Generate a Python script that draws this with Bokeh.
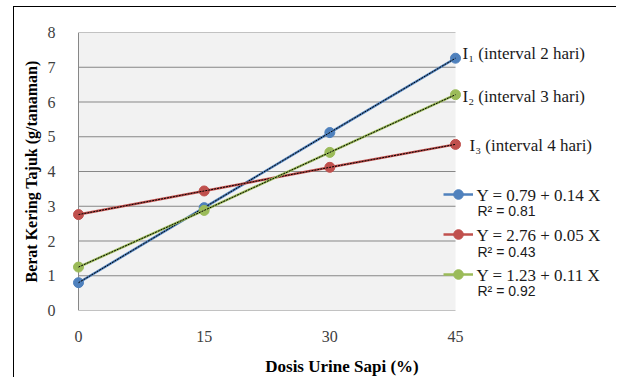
from bokeh.plotting import figure
from bokeh.models import (Range1d, FixedTicker, BoxAnnotation, Label, Legend, LegendItem)
from bokeh.embed import file_html
from bokeh.resources import INLINE

# ---- data ----
dosis = [0, 15, 30, 45]
i1 = [0.80, 2.96, 5.12, 7.26]   # interval 2 hari
i2 = [1.25, 2.88, 4.55, 6.21]   # interval 3 hari
i3 = [2.76, 3.44, 4.12, 4.78]   # interval 4 hari
y_ticks = [0, 1, 2, 3, 4, 5, 6, 7, 8]
x_ticks = [0, 15, 30, 45]
series_names = ["I₁ (interval 2 hari)", "I₂ (interval 3 hari)", "I₃ (interval 4 hari)"]
equations = ["Y = 0.79 + 0.14 X", "Y = 2.76 + 0.05 X", "Y = 1.23 + 0.11 X"]
r2_labels = ["R² = 0.81", "R² = 0.43", "R² = 0.92"]

BLUE, RED, GREEN = "#4F81BD", "#C0504D", "#9BBB59"
GRID = "#878787"
SERIF = "Liberation Serif"
SANS = "Liberation Sans"

# page pixel geometry (reference): x=0 -> 78px, x=45 -> 455px ; y=0 -> 313px, y=8 -> 32px
PX0, PX45, PY0, PY8 = 78, 455, 313, 32
px_per_x = (PX45 - PX0) / 45.0
px_per_y = (PY0 - PY8) / 8.0
FRAME_L, FRAME_R, FRAME_T, FRAME_B = 66, 617, 32, 313
M_LEFT, M_TOP = 13, 6
CANVAS_X, CANVAS_Y = M_LEFT + 1, M_TOP + 1
W, H = 617 - CANVAS_X, 378 - CANVAS_Y

x_lo, x_hi = x_ticks[0], x_ticks[-1]
y_lo, y_hi = y_ticks[0], y_ticks[-1]
x_start = x_lo - (PX0 - FRAME_L) / px_per_x
x_end = x_hi + (FRAME_R - PX45) / px_per_x

p = figure(width=W, height=H, output_backend="svg", toolbar_location=None,
           x_range=Range1d(x_start, x_end), y_range=Range1d(y_lo, y_hi),
           min_border_left=FRAME_L - CANVAS_X, min_border_right=0,
           min_border_top=FRAME_T - CANVAS_Y, min_border_bottom=378 - FRAME_B)
p.margin = (M_TOP, 0, 0, M_LEFT)
p.styles = {"border-left": "1px solid black", "border-top": "1px solid black"}
p.outline_line_color = None
p.background_fill_color = "white"
p.xgrid.visible = False
p.ygrid.visible = False

p.add_layout(BoxAnnotation(left=x_lo, right=x_hi, bottom=y_lo, top=y_hi,
                           fill_color="#F2F2F2", fill_alpha=1, line_color=None, level="underlay"))
# horizontal gridlines and left edge of plot area
p.segment(x0=[x_lo] * len(y_ticks), x1=[x_hi] * len(y_ticks), y0=y_ticks, y1=y_ticks,
          line_color=GRID, line_width=1)
p.segment(x0=[x_lo], x1=[x_lo], y0=[y_lo], y1=[y_hi], line_color=GRID, line_width=1)

items = []
for ys, col in [(i1, BLUE), (i3, RED), (i2, GREEN)]:
    lr = p.line(dosis, ys, line_color=col, line_width=2.5)
    sr = p.scatter(dosis, ys, size=10, fill_color=col, line_color=col)
    p.line(dosis, ys, line_color="black", line_width=1, line_dash="2 1")
    items.append(LegendItem(label=" ", renderers=[lr, sr]))

legend = Legend(items=items, location=(443 - FRAME_L, FRAME_B - 289), glyph_width=30, glyph_height=24,
                label_height=24, spacing=16, padding=0, margin=0, label_standoff=0,
                label_width=0, border_line_color=None, background_fill_alpha=0,
                label_text_font_size="1px")
p.add_layout(legend)

# axes
p.xaxis.ticker = FixedTicker(ticks=x_ticks)
p.yaxis.ticker = FixedTicker(ticks=y_ticks)
for ax in (p.xaxis[0], p.yaxis[0]):
    ax.axis_line_color = None
    ax.major_tick_line_color = None
    ax.minor_tick_line_color = None
    ax.major_label_text_font = SERIF
    ax.major_label_text_font_size = "16px"
    ax.major_label_text_color = "#404040"
    ax.axis_label_text_font = SERIF
    ax.axis_label_text_font_style = "bold"
    ax.axis_label_text_color = "black"
p.xaxis.axis_label_text_font_size = "17px"
p.yaxis.axis_label_text_font_size = "16px"
p.xaxis.major_label_standoff = 14
p.yaxis.major_label_standoff = 5
p.xaxis.axis_label = "Dosis Urine Sapi (%)"
p.yaxis.axis_label = "Berat Kering Tajuk (g/tanaman)"
p.xaxis.axis_label_standoff = 12
p.yaxis.axis_label_standoff = 5


def dx(px):
    return x_lo + (px - PX0) / px_per_x


def dy(py):
    return y_lo + (PY0 - py) / px_per_y


for name, px, py in [(series_names[0], 462, 53), (series_names[1], 462, 97), (series_names[2], 469, 146)]:
    p.add_layout(Label(x=dx(px), y=dy(py), text=name, text_font=SERIF, text_font_size="17px",
                       text_baseline="middle", text_color="#1a1a1a"))

for eq, r2, py_eq, py_r2 in zip(equations, r2_labels, [197, 237, 278], [212, 254, 293]):
    p.add_layout(Label(x=dx(476), y=dy(py_eq), text=eq, text_font=SERIF, text_font_size="17px",
                       text_baseline="middle", text_color="#1a1a1a"))
    p.add_layout(Label(x=dx(477), y=dy(py_r2), text=r2, text_font=SANS, text_font_size="14px",
                       text_baseline="middle", text_color="#1a1a1a"))

open("out.html", "w").write(file_html(p, INLINE))
